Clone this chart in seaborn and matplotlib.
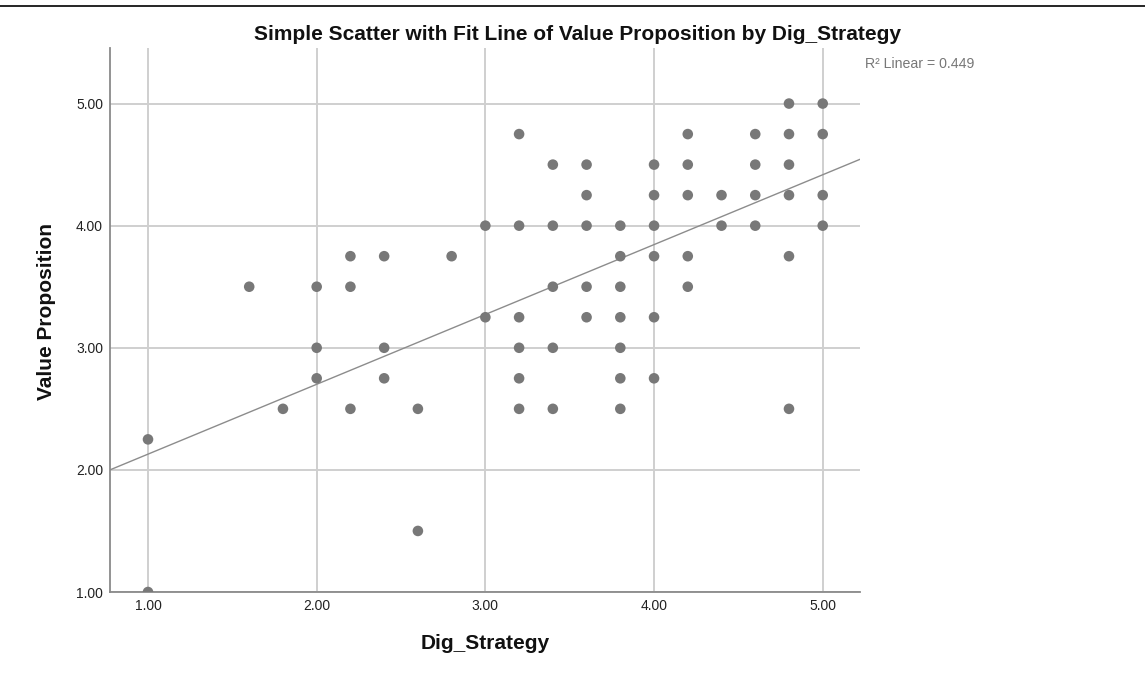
import matplotlib
matplotlib.use("Agg")
import matplotlib.pyplot as plt
import seaborn as sns
import numpy as np
import pandas as pd
from matplotlib.lines import Line2D

# Data (unique visible points)
dig_strategy = [1.0, 1.0,
                1.6,
                1.8,
                2.0, 2.0, 2.0,
                2.2, 2.2, 2.2,
                2.4, 2.4, 2.4,
                2.6, 2.6,
                2.8,
                3.0, 3.0,
                3.2, 3.2, 3.2, 3.2, 3.2, 3.2,
                3.4, 3.4, 3.4, 3.4, 3.4,
                3.6, 3.6, 3.6, 3.6, 3.6,
                3.8, 3.8, 3.8, 3.8, 3.8, 3.8, 3.8,
                4.0, 4.0, 4.0, 4.0, 4.0, 4.0,
                4.2, 4.2, 4.2, 4.2, 4.2,
                4.4, 4.4,
                4.6, 4.6, 4.6, 4.6,
                4.8, 4.8, 4.8, 4.8, 4.8, 4.8,
                5.0, 5.0, 5.0, 5.0]
value_proposition = [2.25, 1.00,
                     3.50,
                     2.50,
                     3.50, 3.00, 2.75,
                     3.75, 3.50, 2.50,
                     3.75, 3.00, 2.75,
                     2.50, 1.50,
                     3.75,
                     4.00, 3.25,
                     4.75, 4.00, 3.25, 3.00, 2.75, 2.50,
                     4.50, 4.00, 3.50, 3.00, 2.50,
                     4.50, 4.25, 4.00, 3.50, 3.25,
                     4.00, 3.75, 3.50, 3.25, 3.00, 2.75, 2.50,
                     4.50, 4.25, 4.00, 3.75, 3.25, 2.75,
                     4.75, 4.50, 4.25, 3.75, 3.50,
                     4.25, 4.00,
                     4.75, 4.50, 4.25, 4.00,
                     5.00, 4.75, 4.50, 4.25, 3.75, 2.50,
                     5.00, 4.75, 4.25, 4.00]

# Linear fit line (underlying data has overlapping cases)
fit_intercept = 1.557
fit_slope = 0.572

x_ticks = [1.0, 2.0, 3.0, 4.0, 5.0]
y_ticks = [1.0, 2.0, 3.0, 4.0, 5.0]
tick_labels = ["1.00", "2.00", "3.00", "4.00", "5.00"]
r2_label = "R\u00b2 Linear = 0.449"
title = "Simple Scatter with Fit Line of Value Proposition by Dig_Strategy"

df = pd.DataFrame({"Dig_Strategy": dig_strategy, "Value Proposition": value_proposition})

sns.set_style("white")
plt.rcParams["font.family"] = ["Liberation Sans", "DejaVu Sans"]

fig = plt.figure(figsize=(11.45, 6.75), dpi=100)
ax = fig.add_axes([110/1145, 1-592/675, (860-110)/1145, (592-48)/675])

ax.set_xlim(0.7747, 5.221)
ax.set_ylim(1.0, 5.455)

ax.set_xticks(x_ticks)
ax.set_xticklabels(tick_labels)
ax.set_yticks(y_ticks)
ax.set_yticklabels(tick_labels)
ax.grid(True, color="#cfcfcf", linewidth=1.4, zorder=0)
ax.set_axisbelow(True)

sns.scatterplot(data=df, x="Dig_Strategy", y="Value Proposition", ax=ax,
                s=58, color="#787878", edgecolor="none", alpha=1, zorder=3)
ax.axline((0, fit_intercept), slope=fit_slope, color="#8c8c8c", linewidth=1.0, zorder=2)

for s in ["top", "right"]:
    ax.spines[s].set_visible(False)
for s in ["left", "bottom"]:
    ax.spines[s].set_color("#8a8a8a")
    ax.spines[s].set_linewidth(1.3)

ax.tick_params(axis="both", length=0, labelsize=10, labelcolor="#222222", pad=5)
ax.set_xlabel("Dig_Strategy", fontsize=15, fontweight="bold", color="#111111")
ax.set_ylabel("Value Proposition", fontsize=15, fontweight="bold", color="#111111")
ax.xaxis.set_label_coords(0.5, -0.077)
ax.yaxis.set_label_coords(-0.072, 0.515)

fig.text(578/1145, 1-40/675, title, fontsize=15, fontweight="bold", color="#111111",
         ha="center", va="baseline")
fig.text(865/1145, 1-68/675, r2_label, fontsize=10.2, color="#777777", va="baseline", ha="left")
fig.add_artist(Line2D([0, 1], [1-6/675, 1-6/675], color="black", linewidth=1.2,
                      transform=fig.transFigure))

fig.savefig("out.png", dpi=100, facecolor="white")
